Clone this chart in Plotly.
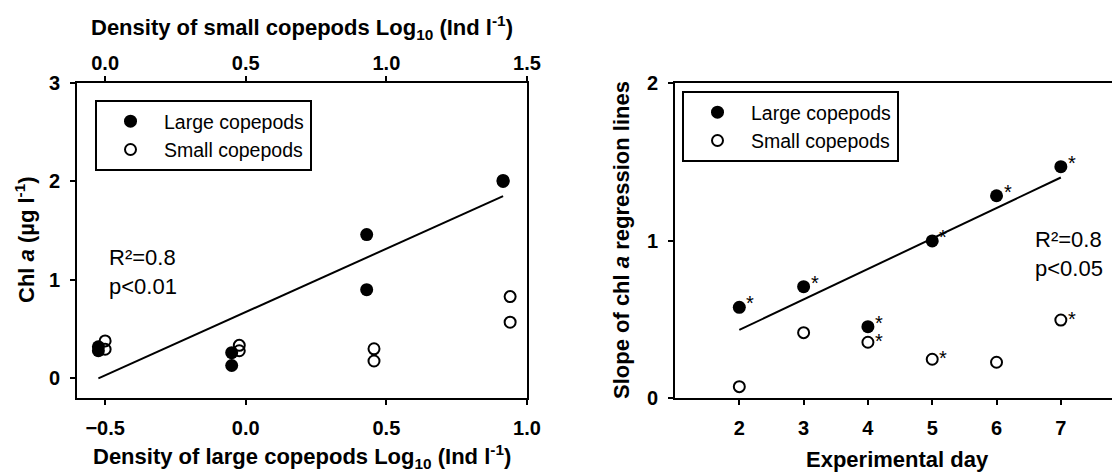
import plotly.graph_objects as go

# ---- Left panel data ----
large_density = [-0.524, -0.524, -0.05, -0.05, 0.43, 0.43, 0.915, 0.915]   # bottom axis (log10 Ind l-1)
large_chl = [0.32, 0.28, 0.26, 0.13, 1.46, 0.90, 2.01, 2.00]
small_density = [0.0, 0.0, 0.477, 0.477, 0.956, 0.956, 1.44, 1.44]         # top axis (log10 Ind l-1)
small_chl = [0.38, 0.295, 0.335, 0.28, 0.30, 0.176, 0.83, 0.57]
fit_left_x = [-0.524, 0.915]
fit_left_y = [0.0, 1.85]

# ---- Right panel data ----
days = [2, 3, 4, 5, 6, 7]
large_slope = [0.576, 0.707, 0.453, 0.997, 1.284, 1.469]
small_slope = [0.072, 0.415, 0.354, 0.246, 0.227, 0.495]
large_sig = [True, True, True, True, True, True]
small_sig = [False, False, True, True, False, True]
fit_right_x = [2, 7]
fit_right_y = [0.432, 1.40]

bottom_ticks = [-0.5, 0.0, 0.5, 1.0]
top_ticks = [0.0, 0.5, 1.0, 1.5]
left_y_ticks = [0, 1, 2, 3]
right_x_ticks = [2, 3, 4, 5, 6, 7]
right_y_ticks = [0, 1, 2]

FONT = "Liberation Sans"
OFF = 8                      # page body margin
W, H = 1120 - OFF, 474 - OFF

def px(x):
    return (x - OFF) / W

def py(y):
    return 1 - (y - OFF) / H

filled = dict(symbol="circle", size=13, color="black", line=dict(color="black", width=0))
opened = dict(symbol="circle-open", size=11, color="black", line=dict(color="black", width=2))

fig = go.Figure()
fig.add_trace(go.Scatter(x=large_density, y=large_chl, mode="markers", marker=filled,
                         name="Large copepods", xaxis="x", yaxis="y", legend="legend"))
fig.add_trace(go.Scatter(x=small_density, y=small_chl, mode="markers", marker=opened,
                         name="Small copepods", xaxis="x2", yaxis="y", legend="legend"))
fig.add_trace(go.Scatter(x=fit_left_x, y=fit_left_y, mode="lines", line=dict(color="black", width=2),
                         showlegend=False, xaxis="x", yaxis="y"))

fig.add_trace(go.Scatter(x=days, y=large_slope, mode="markers", marker=filled,
                         name="Large copepods", xaxis="x3", yaxis="y3", legend="legend2"))
fig.add_trace(go.Scatter(x=days, y=small_slope, mode="markers", marker=opened,
                         name="Small copepods", xaxis="x3", yaxis="y3", legend="legend2"))
fig.add_trace(go.Scatter(x=fit_right_x, y=fit_right_y, mode="lines", line=dict(color="black", width=2),
                         showlegend=False, xaxis="x3", yaxis="y3"))

# significance stars
annotations = []
for d, v, s in zip(days, large_slope, large_sig):
    if s:
        annotations.append(dict(x=d, y=v, xref="x3", yref="y3", text="*", showarrow=False,
                                xanchor="center", yanchor="middle",
                                xshift=11, yshift=4, font=dict(family=FONT, size=20, color="black")))
for d, v, s in zip(days, small_slope, small_sig):
    if s:
        annotations.append(dict(x=d, y=v, xref="x3", yref="y3", text="*", showarrow=False,
                                xanchor="center", yanchor="middle",
                                xshift=11, yshift=1, font=dict(family=FONT, size=20, color="black")))

tick_font = dict(family=FONT, size=20, color="black", weight="bold")
title_font = dict(family=FONT, size=22, color="black", weight="bold")

L_x0, L_x1 = 77, 527
R_x0 = 675
Y_top, Y_bot = 83, 398

axis_common = dict(showline=True, linecolor="black", linewidth=2, ticks="outside", ticklen=5,
                   tickwidth=2, tickcolor="black", showgrid=False, zeroline=False,
                   tickfont=tick_font, automargin=False)

layout = dict(
    width=W, height=H, margin=dict(l=0, r=0, t=0, b=0, autoexpand=False),
    paper_bgcolor="white", plot_bgcolor="white",
    font=dict(family=FONT, color="black"),
    xaxis=dict(axis_common, domain=[px(L_x0), px(L_x1)], range=[-0.6, 1.0], tickvals=bottom_ticks,
               tickformat=".1f", anchor="y", mirror=False, ticklabelstandoff=6),
    xaxis2=dict(axis_common, overlaying="x", side="top", range=[-0.1, 1.5], tickvals=top_ticks,
                tickformat=".1f", anchor="y", ticklabelstandoff=-2),
    yaxis=dict(axis_common, domain=[py(Y_bot), py(Y_top)], range=[-0.2, 3], tickvals=left_y_ticks,
               anchor="x", mirror=True, ticklabelstandoff=6),
    xaxis3=dict(axis_common, domain=[px(R_x0), 1.0], range=[1, 7.92], tickvals=right_x_ticks,
                anchor="y3", mirror=True, ticklabelstandoff=6),
    yaxis3=dict(axis_common, domain=[py(Y_bot), py(Y_top)], range=[0, 2], tickvals=right_y_ticks,
                anchor="x3", mirror=False, ticklabelstandoff=6),
    legend=dict(x=px(95), y=py(100), xanchor="left", yanchor="top", bgcolor="white",
                bordercolor="black", borderwidth=2, font=dict(family=FONT, size=19.5, color="black"),
                itemwidth=57),
    legend2=dict(x=px(682), y=py(91), xanchor="left", yanchor="top", bgcolor="white",
                 bordercolor="black", borderwidth=2, font=dict(family=FONT, size=19.5, color="black"),
                 itemwidth=57),
)

def label(text, x, y, angle=0):
    return dict(text=text, x=px(x), y=py(y), xref="paper", yref="paper", showarrow=False,
                xanchor="center", yanchor="middle", textangle=angle, font=title_font)

annotations += [
    label("Density of small copepods Log<sub>10</sub> (Ind l<sup>-1</sup>)", 302, 28),
    label("Density of large copepods Log<sub>10</sub> (Ind l<sup>-1</sup>)", 302, 456),
    label("Chl <i>a</i> (µg l<sup>-1</sup>)", 25, 240, -90),
    label("Experimental day", 897, 459),
    label("Slope of chl <i>a</i> regression lines", 621, 240, -90),
    dict(text="R²=0.8<br>p<0.01", x=px(107), y=py(272), xref="paper", yref="paper", showarrow=False,
         xanchor="left", yanchor="middle", align="left", font=dict(family=FONT, size=22, color="black")),
    dict(text="R²=0.8<br>p<0.05", x=px(1033), y=py(254), xref="paper", yref="paper", showarrow=False,
         xanchor="left", yanchor="middle", align="left", font=dict(family=FONT, size=22, color="black")),
]
layout["annotations"] = annotations

fig.update_layout(**layout)
fig.write_html("out.html")
